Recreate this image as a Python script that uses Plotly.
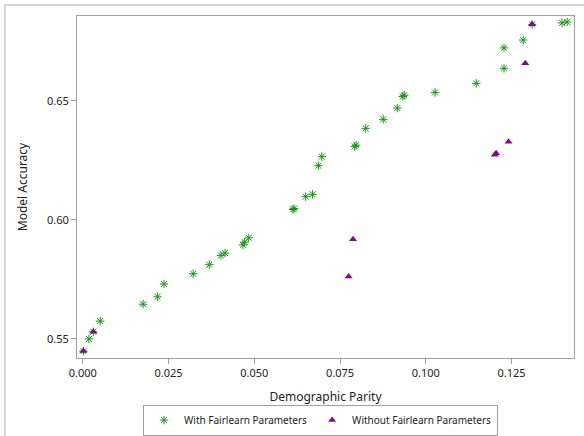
import plotly.graph_objects as go

# With Fairlearn Parameters
with_dp = [0.0002, 0.0018, 0.0031, 0.0051, 0.0176, 0.0218, 0.0237, 0.0322, 0.0369, 0.0403,
           0.0415, 0.0467, 0.0472, 0.0484, 0.0613, 0.0616, 0.0650, 0.0670, 0.0687, 0.0697,
           0.0793, 0.0797, 0.0825, 0.0876, 0.0917, 0.0933, 0.0937, 0.1027, 0.1147, 0.1228,
           0.1228, 0.1284, 0.1310, 0.1397, 0.1412]
with_acc = [0.5448, 0.5499, 0.5529, 0.5574, 0.5645, 0.5676, 0.5730, 0.5773, 0.5811, 0.5850,
            0.5860, 0.5894, 0.5906, 0.5924, 0.6043, 0.6047, 0.6097, 0.6107, 0.6227, 0.6265,
            0.6308, 0.6313, 0.6384, 0.6422, 0.6469, 0.6518, 0.6523, 0.6535, 0.6573, 0.6636,
            0.6722, 0.6755, 0.6821, 0.6827, 0.6831]

# Without Fairlearn Parameters
without_dp = [0.0002, 0.0031, 0.0775, 0.0788, 0.1201, 0.1205, 0.1241, 0.1290, 0.1310]
without_acc = [0.5448, 0.5529, 0.5761, 0.5918, 0.6273, 0.6279, 0.6328, 0.6657, 0.6821]

x_ticks = [0.0, 0.025, 0.05, 0.075, 0.1, 0.125]
x_labels = ["0.000", "0.025", "0.050", "0.075", "0.100", "0.125"]
y_ticks = [0.55, 0.60, 0.65]
y_labels = ["0.55", "0.60", "0.65"]

FONT = "Noto Sans"

fig = go.Figure()
fig.add_trace(go.Scatter(
    x=with_dp, y=with_acc, mode="markers", name="With Fairlearn Parameters",
    marker=dict(symbol="asterisk-open", size=7, color="#1a941a",
                line=dict(color="#1a941a", width=1))))
fig.add_trace(go.Scatter(
    x=without_dp, y=without_acc, mode="markers", name="Without Fairlearn Parameters",
    marker=dict(symbol="triangle-up", size=7, color="#840a84",
                line=dict(width=0))))

axis_common = dict(showgrid=False, zeroline=False, showline=True, mirror=True,
                   linecolor="#a0a0a0", linewidth=1, ticks="outside", ticklen=5,
                   tickcolor="#a0a0a0", tickfont=dict(family=FONT, size=11, color="#222"),
                   automargin=False)

fig.update_xaxes(range=[-0.00166, 0.1432], tickvals=x_ticks, ticktext=x_labels,
                 title=dict(text="Demographic Parity", font=dict(family=FONT, size=12, color="#222"),
                            standoff=16),
                 **axis_common)
fig.update_yaxes(range=[0.5419, 0.6856], tickvals=y_ticks, ticktext=y_labels,
                 title=dict(text="Model Accuracy", font=dict(family=FONT, size=12, color="#222"),
                            standoff=16),
                 **axis_common)

fig.add_shape(type="rect", xref="paper", yref="paper", x0=-0.145, x1=1.1, y0=-0.5, y1=1.032,
              line=dict(color="#c8c8c8", width=1.5), layer="below")

fig.update_layout(
    width=584, height=436,
    margin=dict(l=77, r=10, t=16, b=78, autoexpand=False),
    paper_bgcolor="white", plot_bgcolor="white",
    font=dict(family=FONT, size=11, color="#222"),
    showlegend=True,
    legend=dict(orientation="h", x=0.49, xanchor="center", yref="container", y=0.072,
                yanchor="top", bordercolor="#a0a0a0", borderwidth=1,
                font=dict(family=FONT, size=10), itemwidth=30, tracegroupgap=0),
)

fig.write_html("out.html", config={"displayModeBar": False},
               post_script="document.body.style.margin='0';")
